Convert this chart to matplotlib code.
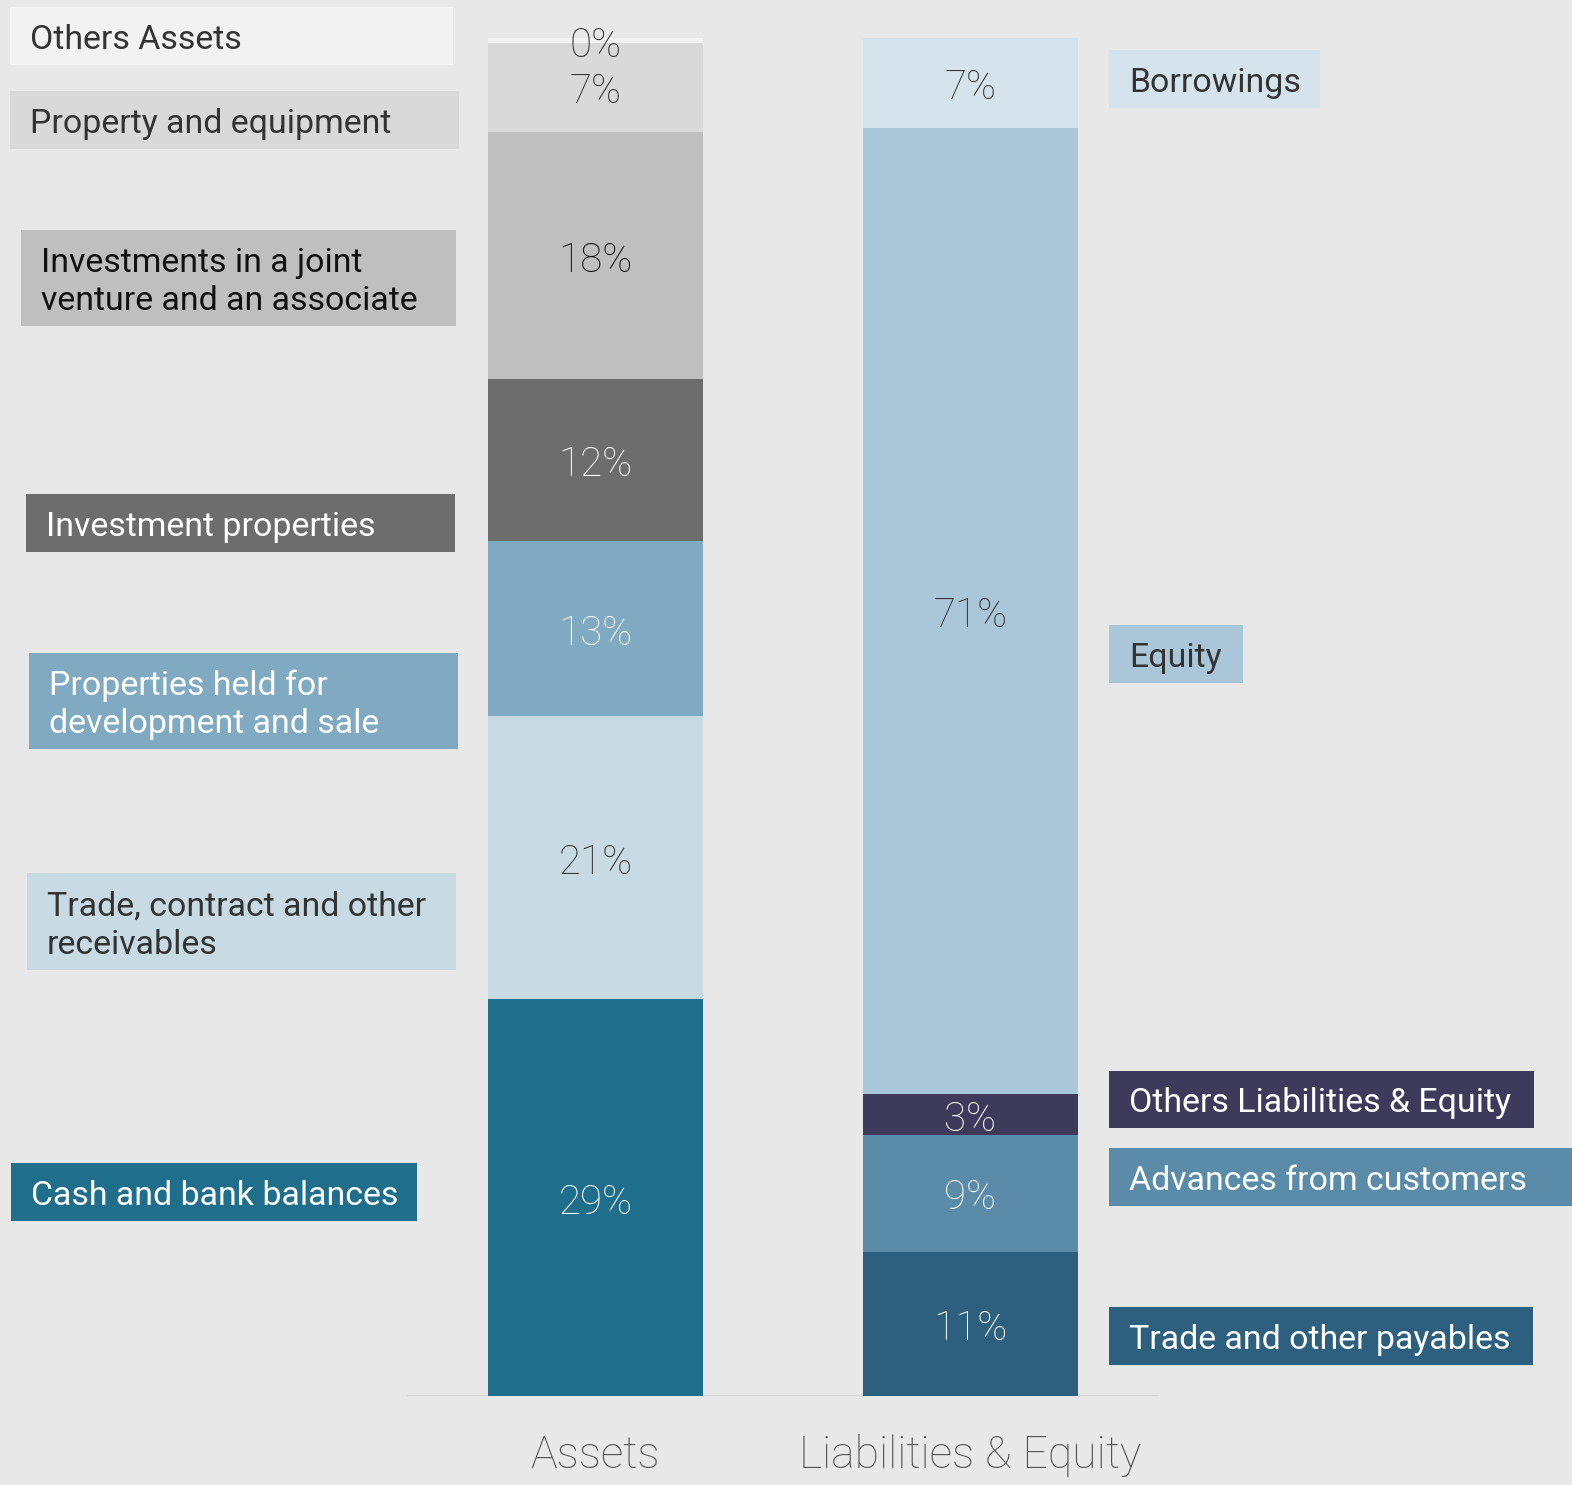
import matplotlib.pyplot as plt
from matplotlib.patches import Rectangle

W, H = 1572, 1485
# layout measured on a 1568 x 1481 grid
GW, GH = 1568, 1481
BG = "#e8e8e8"
FONT = "Roboto"

# balance sheet composition, % of total
columns = ["Assets", "Liabilities & Equity"]

asset_items = ["Cash and bank balances", "Trade, contract and other\nreceivables",
               "Properties held for\ndevelopment and sale", "Investment properties",
               "Investments in a joint\nventure and an associate",
               "Property and equipment", "Others Assets"]
asset_share = [29.2, 20.8, 12.9, 11.9, 18.2, 6.6, 0.3]
asset_colors = ["#1f6e8c", "#c8dbe5", "#7faac1", "#6d6d6d", "#bfbfbf", "#d9d9d9", "#f2f2f2"]
asset_text = ["white", "#333333", "white", "white", "#111111", "#333333", "#333333"]

liab_items = ["Trade and other payables", "Advances from customers",
              "Others Liabilities & Equity", "Equity", "Borrowings"]
liab_share = [10.6, 8.6, 3.0, 71.1, 6.6]
liab_colors = ["#2d5f7f", "#5a8ba8", "#3e3a5c", "#a9c7d8", "#d5e4ec"]
liab_text = ["white", "white", "white", "#333333", "#333333"]

# label boxes beside the bars: (x0, y0, x1, y1) from top-left
asset_boxes = [(11, 1160, 416, 1218), (27, 871, 455, 967), (29, 651, 457, 747),
               (26, 493, 454, 551), (21, 229, 455, 325), (10, 91, 458, 149), (10, 7, 452, 65)]
liab_boxes = [(1106, 1303, 1529, 1361), (1106, 1145, 1572, 1203), (1106, 1068, 1530, 1125),
              (1106, 623, 1240, 681), (1106, 50, 1317, 108)]


def fx(px):
    return px / GW


def fy(py):
    return 1 - py / GH


fig = plt.figure(figsize=(W / 100, H / 100), dpi=100, facecolor=BG)
ax = fig.add_axes([fx(406), fy(1392), fx(1156) - fx(406), fy(37) - fy(1392)])
ax.set_facecolor(BG)
ax.set_xlim(-0.5027, 1.5027)
ax.set_ylim(0, 100)
ax.axis("off")

bar_w = 0.572
for xi, (shares, cols, tcols) in enumerate([(asset_share, asset_colors, asset_text),
                                            (liab_share, liab_colors, liab_text)]):
    bottom = 0
    for v, c, tc in zip(shares, cols, tcols):
        ax.bar(xi, v, bottom=bottom, width=bar_w, color=c, linewidth=0)
        ax.annotate(f"{v:.0f}%", xy=(xi, bottom + v / 2), xytext=(0, -3.5),
                    textcoords="offset points", ha="center", va="center",
                    fontsize=29, color=tc, family=FONT, fontweight="light")
        bottom += v

ax.axhline(0, color="#d4d4d4", lw=2, zorder=0)
for xi, name in enumerate(columns):
    ax.text(xi, -4.4, name, ha="center", va="center", fontsize=32,
            color="#555555", family=FONT, fontweight="light")


def label_box(box, text, fill, tcolor):
    x0, y0, x1, y1 = box
    fig.patches.append(Rectangle((fx(x0), fy(y1)), fx(x1) - fx(x0), fy(y0) - fy(y1),
                                 transform=fig.transFigure, facecolor=fill,
                                 edgecolor="none", zorder=1))
    fig.text(fx(x0 + 20), fy((y0 + y1) / 2 + 4), text, ha="left", va="center",
             fontsize=24.4, color=tcolor, family=FONT, linespacing=1.25, zorder=2)


for box, t, c, tc in zip(asset_boxes, asset_items, asset_colors, asset_text):
    label_box(box, t, c, tc)
for box, t, c, tc in zip(liab_boxes, liab_items, liab_colors, liab_text):
    label_box(box, t, c, tc)

fig.savefig("out.png", dpi=100, facecolor=BG)
